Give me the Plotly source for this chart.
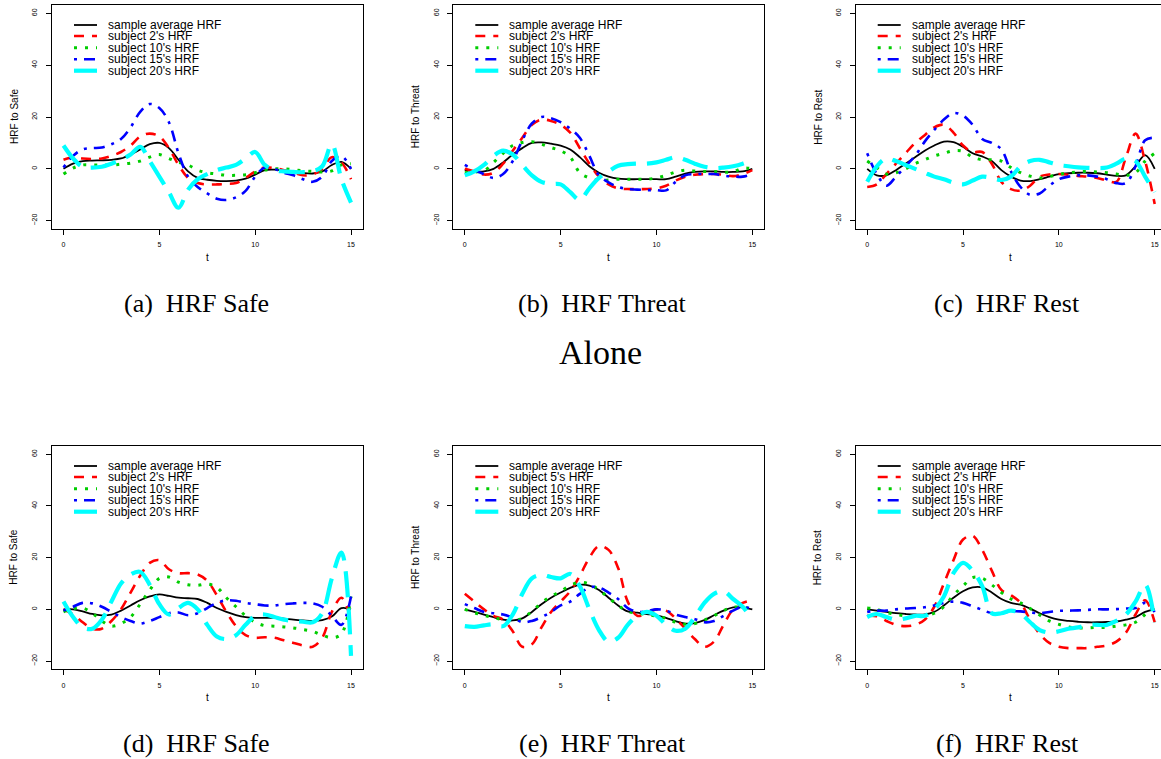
import plotly.graph_objects as go

# ---------------- data ----------------
T = [0, 0.5, 1, 1.5, 2, 2.5, 3, 3.5, 4, 4.5, 5, 5.5, 6, 6.5, 7, 7.5,
     8, 8.5, 9, 9.5, 10, 10.5, 11, 11.5, 12, 12.5, 13, 13.5, 14, 14.5, 15]

X_TICKS = [0, 5, 10, 15]
Y_TICKS = [-20, 0, 20, 40, 60]

# (a) Alone - Safe
A_AVG = [0, 2, 3, 3.2, 3.3, 3.5, 4, 5.5, 7.5, 9.5, 10, 8, 3.5, -1, -3.5, -4.2, -4.6, -4.7, -4.5, -3.8, -2.2, -0.5, -0.3, -0.6, -1, -1.6, -1.8, -1, 1.5, 2.7, 0]
A_S2 = [3.5, 4.5, 4, 3.8, 4, 5, 6.5, 9, 12.5, 13.6, 12.5, 8, 1.5, -3.5, -5.5, -6, -6, -5.8, -5.5, -3.5, -1, 0.5, 0.3, -0.5, -1.5, -2.5, -2.2, 0, 4.5, 2.5, -4]
A_S10 = [-2, 0.3, 1.5, 1.5, 1.5, 1.5, 1.8, 2.2, 3, 4.5, 5.5, 4, 2.5, 1.5, -0.5, -1.5, -2, -2.5, -2.5, -2.3, -1.5, -0.5, 0, 0, -0.3, -0.8, -1, -1.2, -0.8, 1.5, 2]
A_S15 = [0.5, 5, 7.5, 8, 8.2, 9.5, 11.5, 16, 22, 25, 23.5, 18, 6, -3, -7, -9.5, -11.5, -12, -11, -8.5, -3, 0.5, 0, -1.5, -2.5, -4, -5, -3, 3, 5, 0]
A_S20 = [9, 4, 0.8, 0.5, 0.8, 2, 3.5, 5.5, 8.5, 3, -3, -9, -15, -8, -4, -2, -0.5, 0.5, 1.5, 4, 6.5, 1.5, -0.5, -1, -1.2, -1.3, -1, 1, 9.5, -4, -13]

# (b) Alone - Threat
B_AVG = [-0.5, -1, -1, 0, 2.5, 5.5, 8, 10, 10.2, 9.7, 9, 7.5, 4.5, 1, -1.5, -3, -3.8, -4, -4, -4, -4, -4, -3, -1.8, -1.2, -1, -1, -1.2, -1.2, -1, 0]
B_S2 = [0, -1, -2.2, -1.5, 2, 7, 12, 17, 19, 18.5, 17, 14, 8, 2, -3, -6, -7.5, -7.8, -7.8, -7.8, -7.5, -6.5, -4.5, -3, -2.3, -2, -2, -2.3, -2.8, -2, -0.5]
B_S10 = [-1.5, -1.2, -0.8, 2.5, 6, 9, 10.2, 10.5, 9.5, 8.2, 7, 4.5, -1.5, -3.5, -4.5, -4.3, -4, -4, -4, -4, -3.5, -2.5, -1.2, -0.5, -0.8, -1, -1, -1.3, -1.2, 0.3, 0]
B_S15 = [1.5, -0.5, -2, -3.5, -2, 3, 11, 17.5, 20, 19.5, 18, 15.5, 12, 5, -2.5, -5.2, -7, -7.8, -8, -8.2, -8.2, -8.3, -5, -2.5, -2, -2, -2, -2.6, -3, -3, -2]
B_S20 = [-2.5, -1, 1.5, 5, 7, 5.5, 1.5, -2.5, -5, -5.8, -6, -9, -12, -7.5, -3.5, -1, 1.2, 1.8, 2, 2, 2.5, 3.5, 4.5, 3.5, 2, 0.8, 0.3, 0.5, 1, 2, 3.5]

# (c) Alone - Rest
C_AVG = [0, -2.5, -2.5, -0.5, 2, 4.5, 7, 9, 10.5, 10.3, 8.5, 6, 4.8, 3, -0.5, -3, -4.5, -4.7, -4, -3, -2, -1.7, -1.5, -1.5, -1.7, -2.2, -2.7, -2.5, 1, 5.3, 0]
C_S2 = [-7, -6, -2, 2, 6, 10, 13, 16, 17, 14, 9, 6.5, 6.5, 2, -5, -7.8, -8.4, -6.5, -3, -2.2, -2, -2.3, -2.7, -3, -3.5, -4.5, -5, 4.5, 13.6, 3, -13.6]
C_S10 = [3, 0.5, -2, -1.5, 0, 2, 3.5, 5, 6, 7, 6.8, 4.5, 3.5, 3.5, 3, 0.5, -1.5, -2.8, -3.5, -3, -2.2, -1.5, -1.2, -1, -1.2, -1.5, -2, -2.5, -1.5, 3, 6]
C_S15 = [6, -2, -6.5, -3, 1, 5, 10.5, 15, 19, 21.5, 20.5, 17, 11.5, 10, 7.5, -1, -7, -10, -9.5, -6.5, -4, -3, -2.5, -2.5, -3, -4, -5.5, -5.5, 1, 11, 12]
C_S20 = [-5, 1, 4, 3, 1.5, 0, -1.5, -3, -4, -5.3, -6, -4.5, -3, -3.5, -4.3, -3, 1, 3, 3.5, 2.5, 1.5, 1, 0.6, 0.4, 0.3, 0.5, 2, 4, 3, -3, -9]

# (d) Safe
D_AVG = [0, 0, -0.8, -1.8, -2.3, -2, -0.5, 1.5, 3.5, 5, 5.8, 5.2, 4.5, 4.3, 4, 2.5, 0.5, -1, -2.2, -3, -3.3, -3.3, -3.3, -3.6, -4, -4.3, -4.5, -4.2, -2.8, 0.5, 0]
D_S2 = [0, -2, -5, -7.5, -7.5, -4.5, 0, 6.5, 13, 18, 19, 15.5, 14, 14, 13.5, 11, 5.5, -1, -6.5, -10, -11, -10.8, -11, -12, -13, -14, -14.5, -11, -1, 4.5, -4]
D_S10 = [-1, 0.3, 0.5, -1.5, -4.5, -6.5, -5.5, -3, 2, 7.5, 12, 12.5, 10.5, 9.5, 9.3, 9.8, 8.5, 4.5, 1, -2.5, -5, -6.3, -6.5, -6.8, -7.2, -7.8, -8.5, -10, -11, -9.5, 5]
D_S15 = [-0.5, 1, 2.5, 2.3, 1, -1, -3, -4.5, -5.5, -4.5, -3, -1.5, -1.2, -2.3, -1.5, 0.5, 2.5, 3.5, 3.3, 2.5, 2, 1.5, 1.5, 2, 2.3, 2.5, 2.3, 1, -2.5, -6, 5]
D_S20 = [3, -3, -7, -7.5, -4, 3, 10, 13.5, 14.5, 9.5, 2, -2, 0.5, 2.5, 0, -6, -10.5, -11.5, -10, -6, -2.5, -2, -3, -4, -4.5, -4.8, -5, -1.5, 12, 22, -18]

# (e) Threat
E_AVG = [0, -1, -2, -3, -4, -4.3, -3.5, -1, 2, 4.5, 6.5, 8.3, 9.5, 9.2, 7.5, 4.5, 1.5, -0.8, -1.3, -1.8, -2.3, -3.3, -4.6, -5.5, -5.3, -4.2, -2.3, -0.5, 0.8, 0.7, 0]
E_S5 = [6, 3, 0, -2.5, -4, -8.5, -14.5, -13.5, -7, -1, 3, 7, 13, 20, 24.5, 23, 16, 3, -2.5, -1.5, 0, -0.5, -3.5, -7.5, -11.5, -14.5, -12.5, -6, 0, 2.5, 3.5]
E_S10 = [0, -1.3, -2.3, -3.2, -4, -4.5, -3.5, -0.8, 2.5, 5, 7, 9.2, 10.5, 9.8, 7.5, 4.5, 1.5, -0.8, -1.5, -2, -2.6, -3.5, -5, -5.8, -5.5, -4.2, -2.5, -0.5, 0.8, 0.8, 0]
E_S15 = [2, 0.5, -1, -1.5, -2, -3.2, -5, -4.5, -3, -1, 1.5, 3, 6, 8.5, 8.5, 6.5, 4, 0.5, -1, -0.7, 0, -0.5, -2, -3, -3.8, -5, -4.5, -2.5, -0.5, 1, 0]
E_S20 = [-6.5, -6.8, -6.2, -5.8, -6.5, -2, 6, 12, 13.3, 12.5, 12, 13.7, 9, 0, -8, -12.5, -11, -6, -2.5, -1, -2.5, -6, -8.3, -7.5, -3, 2.5, 6, 7, 4, 1, -4]

# (f) Rest
F_AVG = [0, -0.5, -1, -1.5, -1.8, -2, -2, -1, 1.5, 4.5, 7, 8.5, 8.5, 6.5, 4, 2.5, 1.8, 0.3, -1.5, -3, -4, -4.5, -4.8, -5, -5, -4.9, -4.7, -4, -3, -1, 0]
F_S2 = [-2.5, -2.7, -4.5, -6, -6.5, -6, -4, 1, 10, 19, 27, 28.5, 23, 15, 7.5, 5.5, 2.5, -4, -9.5, -13, -14.5, -15, -15, -15, -14.5, -14, -12.5, -9, -2, 3.5, -5]
F_S10 = [0.5, 0, -1.2, -2, -2.5, -2.8, -2.5, -1.5, 1, 5.5, 9, 12.3, 12, 9.5, 6.5, 4, 2.5, 0.3, -2.2, -4.5, -5.8, -6.8, -7.2, -7.2, -7, -7, -6.5, -6, -5, -2, 1]
F_S15 = [-1, -0.5, -0.5, 0, 0.3, 0.5, 0.8, 1.5, 2.5, 3, 2.5, 1.2, -0.2, -1.5, -1.5, -0.8, -0.8, -1.2, -1.5, -1, -0.6, -0.5, -0.4, -0.2, 0, 0, 0.1, 0.3, 0.5, 2.5, -1]
F_S20 = [-3, -1.8, -3, -4, -3.5, -2.5, -2.5, 0, 5, 14, 18, 15, 9, -1.5, -1.5, -0.5, -1.5, -5, -8, -9, -8.5, -7.5, -7, -6, -6, -6, -4.5, -2, 3, 9.5, -5]

NAMES_STD = ["sample average HRF", "subject 2's HRF", "subject 10's HRF",
             "subject 15's HRF", "subject 20's HRF"]
NAMES_E = ["sample average HRF", "subject 5's HRF", "subject 10's HRF",
           "subject 15's HRF", "subject 20's HRF"]

PANELS = [
    dict(series=[A_AVG, A_S2, A_S10, A_S15, A_S20], names=NAMES_STD,
         ytitle="HRF to Safe", caption="(a)\u00a0\u00a0HRF Safe"),
    dict(series=[B_AVG, B_S2, B_S10, B_S15, B_S20], names=NAMES_STD,
         ytitle="HRF to Threat", caption="(b)\u00a0\u00a0HRF Threat"),
    dict(series=[C_AVG, C_S2, C_S10, C_S15, C_S20], names=NAMES_STD,
         ytitle="HRF to Rest", caption="(c)\u00a0\u00a0HRF Rest"),
    dict(series=[D_AVG, D_S2, D_S10, D_S15, D_S20], names=NAMES_STD,
         ytitle="HRF to Safe", caption="(d)\u00a0\u00a0HRF Safe"),
    dict(series=[E_AVG, E_S5, E_S10, E_S15, E_S20], names=NAMES_E,
         ytitle="HRF to Threat", caption="(e)\u00a0\u00a0HRF Threat"),
    dict(series=[F_AVG, F_S2, F_S10, F_S15, F_S20], names=NAMES_STD,
         ytitle="HRF to Rest", caption="(f)\u00a0\u00a0HRF Rest"),
]

# ---------------- styles / layout ----------------
W, H = 1161, 759
STYLES = [
    dict(color="#000000", width=1.8, dash="solid"),
    dict(color="#FF0000", width=2.6, dash="10px,8px"),
    dict(color="#00CD00", width=3.0, dash="3px,8px"),
    dict(color="#0000FF", width=2.6, dash="3px,7px,11px,7px"),
    dict(color="#00FFFF", width=4.2, dash="26px,11px"),
]

# pixel geometry of each panel box (R default 4% axis padding)
COLS = [52, 453.3, 855.7]
BOX_W = 310.5
ROWS = [(5, 229), (446, 669.3)]
X_LIM = (-0.6, 15.6)
Y_LIM = (-23.2, 63.2)
CAPTION_Y = [303, 743]
TLABEL_Y = [257, 697]
CAPTION_X = [196, 602, 1007]
LEG_ROWS = [20, 31, 42.7, 54.3, 65.7]

SANS = "Liberation Sans, Arial, Helvetica, sans-serif"
SERIF = "Liberation Serif, Times New Roman, serif"


def px(x):
    return x / W


def py(y):
    return 1 - y / H


fig = go.Figure()
annotations = []
shapes = []
layout_axes = {}

for i, p in enumerate(PANELS):
    r, c = divmod(i, 3)
    left = COLS[c]
    right = left + BOX_W
    top, bottom = ROWS[r]
    n = i + 1
    xa = "x" if n == 1 else f"x{n}"
    ya = "y" if n == 1 else f"y{n}"
    xkey = "xaxis" if n == 1 else f"xaxis{n}"
    ykey = "yaxis" if n == 1 else f"yaxis{n}"

    # clamp the box to the figure, keeping the data scale unchanged
    xs = (X_LIM[1] - X_LIM[0]) / BOX_W
    vis_right = min(right, W)
    xr = [X_LIM[0], X_LIM[1] - (right - vis_right) * xs]

    for k, (vals, name) in enumerate(zip(p["series"], p["names"])):
        st = STYLES[k]
        fig.add_trace(go.Scatter(
            x=T, y=vals, mode="lines", name=name, showlegend=False,
            line=dict(color=st["color"], width=st["width"], dash=st["dash"],
                      shape="spline", smoothing=1.0),
            xaxis=xa, yaxis=ya, hoverinfo="skip"))
        # legend key + label
        ly = top + LEG_ROWS[k]
        shapes.append(dict(type="line", xref="paper", yref="paper",
                           x0=px(left + 22), x1=px(left + 45), y0=py(ly), y1=py(ly),
                           line=dict(color=st["color"], width=st["width"], dash=st["dash"])))
        annotations.append(dict(text=name, xref="paper", yref="paper",
                                x=px(left + 54), y=py(ly), xanchor="left", yanchor="middle",
                                showarrow=False, font=dict(family=SANS, size=12, color="black")))

    common = dict(showline=True, linecolor="black", linewidth=1, ticks="outside",
                  ticklen=5, tickwidth=1, tickcolor="black", showgrid=False,
                  zeroline=False, fixedrange=True,
                  tickfont=dict(family=SANS, size=7, color="black"))
    layout_axes[xkey] = dict(common, domain=[px(left), px(vis_right)], range=xr,
                             tickvals=X_TICKS, anchor=ya, ticklabelstandoff=4,
                             mirror=True)
    layout_axes[ykey] = dict(common, domain=[py(bottom), py(top)], range=list(Y_LIM),
                             tickvals=Y_TICKS, anchor=xa, tickangle=-90,
                             ticklabelstandoff=6, mirror=(vis_right == right))

    # axis titles
    annotations.append(dict(text=p["ytitle"], xref="paper", yref="paper",
                            x=px(left - 38), y=py((top + bottom) / 2), textangle=-90,
                            xanchor="center", yanchor="middle", showarrow=False,
                            font=dict(family=SANS, size=10, color="black")))
    annotations.append(dict(text="t", xref="paper", yref="paper",
                            x=px((left + right) / 2), y=py(TLABEL_Y[r]),
                            xanchor="center", yanchor="middle",
                            showarrow=False, font=dict(family=SANS, size=10, color="black")))
    # caption
    annotations.append(dict(text=p["caption"], xref="paper", yref="paper",
                            x=px(CAPTION_X[c]), y=py(CAPTION_Y[r]), xanchor="center",
                            yanchor="middle", showarrow=False,
                            font=dict(family=SERIF, size=26, color="black")))

annotations.append(dict(text="Alone", xref="paper", yref="paper", x=px(600), y=py(352),
                        xanchor="center", yanchor="middle", showarrow=False,
                        font=dict(family=SERIF, size=34, color="black")))

fig.update_layout(
    width=W, height=H, margin=dict(l=0, r=0, t=0, b=0),
    paper_bgcolor="white", plot_bgcolor="white", showlegend=False,
    annotations=annotations, shapes=shapes, **layout_axes)

# place the figure at the page origin (remove the default body margin)
fig.write_html("out.html",
               config={"displayModeBar": False, "staticPlot": True},
               post_script="document.body.style.margin='0';"
                           "document.body.style.overflow='hidden';")
